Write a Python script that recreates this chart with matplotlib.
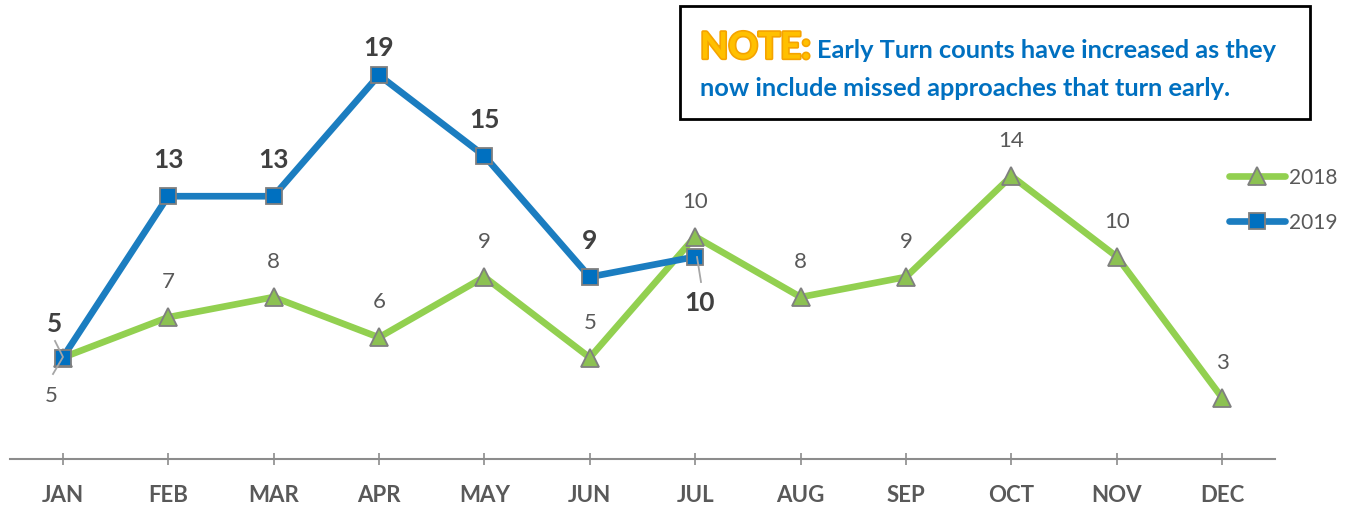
import matplotlib
matplotlib.use("Agg")
import matplotlib.pyplot as plt
from matplotlib.patches import Rectangle
import matplotlib.patheffects as pe

months = ["JAN", "FEB", "MAR", "APR", "MAY", "JUN", "JUL", "AUG", "SEP", "OCT", "NOV", "DEC"]
values_2018 = [5, 7, 8, 6, 9, 5, 11, 8, 9, 14, 10, 3]
labels_2018 = ["5", "7", "8", "6", "9", "5", "10", "8", "9", "14", "10", "3"]
values_2019 = [5, 13, 13, 19, 15, 9, 10]
labels_2019 = ["5", "13", "13", "19", "15", "9", "10"]

W, H = 1348, 506
fig = plt.figure(figsize=(W / 100, H / 100), dpi=100)
plt.rcParams['font.family'] = ['Lato', 'DejaVu Sans']

def fx(px):
    return px / W

def fy(py):
    return 1 - py / H

ax = fig.add_axes([fx(10), fy(459.5), fx(1275) - fx(10), fy(56) - fy(459.5)])
x18 = list(range(len(values_2018)))
x19 = list(range(len(values_2019)))

green = "#92D050"
blue = "#1B7DC0"
grey_txt = "#595959"

ax.plot(x18, values_2018, color=green, lw=4.8, solid_capstyle="round", zorder=2,
        marker="^", markersize=13, markerfacecolor="#8CC152", markeredgecolor="#7F7F7F",
        markeredgewidth=1.3, label="2018")
ax.plot(x19, values_2019, color=blue, lw=4.8, solid_capstyle="round", zorder=3,
        marker="s", markersize=11.5, markerfacecolor="#0070C0", markeredgecolor="#7F7F7F",
        markeredgewidth=1.3, label="2019")

ax.set_xlim(-0.5, len(months) - 0.5)
ax.set_ylim(0, 20)
ax.set_xticks(x18)
ax.set_xticklabels(months, fontsize=16, fontweight="bold", color=grey_txt)
ax.set_yticks([])
for s in ["top", "right", "left"]:
    ax.spines[s].set_visible(False)
ax.spines["bottom"].set_color("#8C8C8C")
ax.spines["bottom"].set_linewidth(1.5)
ax.tick_params(axis="x", direction="inout", length=9, width=1.2, color="#8C8C8C", pad=14)

# 2018 labels
for i, (v, t) in enumerate(zip(values_2018, labels_2018)):
    off = (-11, -37) if i == 0 else (0, 36)
    ax.annotate(t, (i, v), xytext=off, textcoords="offset pixels", ha="center", va="center",
                fontsize=16, color=grey_txt, zorder=5)

# 2019 labels
offs_2019 = {0: (-8, 35), 3: (0, 28), 6: (4, -45)}
for i, (v, t) in enumerate(zip(values_2019, labels_2019)):
    off = offs_2019.get(i, (0, 37))
    ax.annotate(t, (i, v), xytext=off, textcoords="offset pixels", ha="center", va="center",
                fontsize=19, fontweight="bold", color="#404040", zorder=5)

# leader lines
lc = "#A6A6A6"
fig.add_artist(plt.Line2D([fx(55), fx(63), fx(53)], [fy(342), fy(358), fy(375)],
                          color=lc, lw=1.3, zorder=6))
fig.add_artist(plt.Line2D([fx(697), fx(701)], [fy(258), fy(283)], color=lc, lw=1.3, zorder=6))

# legend
leg = ax.legend(loc="upper left", frameon=False, fontsize=15, handlelength=2.7,
                labelspacing=1.2, handletextpad=0.2, borderaxespad=0, borderpad=0)
for t in leg.get_texts():
    t.set_color(grey_txt)
leg.set_bbox_to_anchor((fx(1229), fy(168)), transform=fig.transFigure)

# note box
fig.add_artist(Rectangle((fx(680), fy(120)), fx(1310) - fx(680), fy(7) - fy(120),
                         transform=fig.transFigure, fill=False, edgecolor="black", lw=2, zorder=10))
fig.text(fx(700), fy(49), "NOTE:", fontsize=26.5, fontweight="bold", color="#FFC000",
         ha="left", va="center", zorder=11,
         path_effects=[pe.withStroke(linewidth=2.4, foreground="#F5A300")])
fig.text(fx(817), fy(50), "Early Turn counts have increased as they", fontsize=18.3,
         fontweight="bold", color="#0070C0", ha="left", va="center", zorder=11)
fig.text(fx(700), fy(89), "now include missed approaches that turn early.", fontsize=18.3,
         fontweight="bold", color="#0070C0", ha="left", va="center", zorder=11)

fig.savefig("out.png", dpi=100)
